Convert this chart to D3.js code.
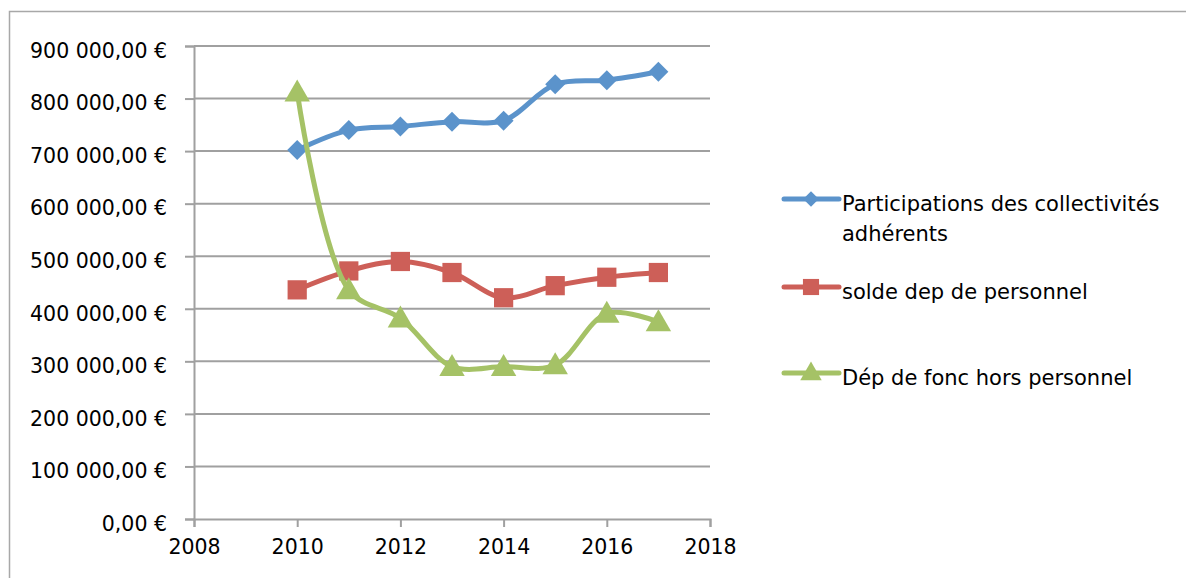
<!DOCTYPE html>
<html>
<head>
<meta charset="utf-8">
<script src="https://cdn.jsdelivr.net/npm/d3@7"></script>
<style>
  html, body { margin: 0; padding: 0; background: #fff; }
  svg { display: block; font-family: "DejaVu Sans", sans-serif; }
</style>
</head>
<body>
<svg id="chart" width="1186" height="578"></svg>
<script>
// data
const years = [2010, 2011, 2012, 2013, 2014, 2015, 2016, 2017];
const participations = [702000, 740000, 747000, 756000, 758000, 827000, 835000, 851000];
const soldePersonnel = [436000, 472000, 490000, 469000, 421000, 444000, 460000, 469000];
const depFonc = [812000, 436000, 382000, 290000, 290000, 293000, 391000, 375000];
const seriesNames = [
  ["Participations des collectivités", "adhérents"],
  ["solde dep de personnel"],
  ["Dép de fonc hors personnel"]
];
const xTicks = [2008, 2010, 2012, 2014, 2016, 2018];
const yTicks = d3.range(0, 900001, 100000);

const COLORS = ["#5b93cb", "#cd5f58", "#a5c266"];
const GRID = "#a0a0a0";

const svg = d3.select("#chart");

// outer frame (runs off right and bottom)
svg.append("rect")
  .attr("x", 9.5).attr("y", 11.5)
  .attr("width", 1200).attr("height", 600)
  .attr("fill", "none").attr("stroke", "#a8a8a8").attr("stroke-width", 1.5);

const x = d3.scaleLinear().domain([2008, 2018]).range([194, 710]);
const y = d3.scaleLinear().domain([0, 900000]).range([519, 46]);

const fmt = v => d3.format(",.2f")(v).replace(/,/g, " ").replace(".", ",") + " €";

// gridlines
svg.append("g").selectAll("line")
  .data(yTicks.filter(d => d > 0))
  .join("line")
  .attr("x1", 194).attr("x2", 710)
  .attr("y1", d => y(d)).attr("y2", d => y(d))
  .attr("stroke", GRID).attr("stroke-width", 2);

// y axis
const gy = svg.append("g").attr("transform", "translate(194,0)")
  .call(d3.axisLeft(y).tickValues(yTicks).tickFormat(fmt).tickSize(9).tickPadding(18));
// x axis
const gx = svg.append("g").attr("transform", "translate(0,519)")
  .call(d3.axisBottom(x).tickValues(xTicks).tickFormat(d3.format("d")).tickSize(8).tickSizeOuter(8).tickPadding(12));

[gx, gy].forEach(g => {
  g.select(".domain").attr("stroke", GRID).attr("stroke-width", 2);
  g.selectAll(".tick line").attr("stroke", GRID).attr("stroke-width", 2);
  g.selectAll(".tick text").attr("fill", "#000").style("font-size", "20.5px")
    .style("font-family", "DejaVu Sans, sans-serif");
});
gy.selectAll(".tick text").attr("dy", "0.55em");
gx.selectAll(".tick text").attr("dy", "0.72em");

// marker shapes: diamond is a square turned 45deg
const markers = [
  { type: d3.symbolSquare, size: 200, rot: 45, dy: 0 },
  { type: d3.symbolSquare, size: 370, rot: 0, dy: 0 },
  { type: d3.symbolTriangle, size: 280, rot: 0, dy: 2 }
];
const legendMarkers = [120, 260, 200];

const series = [participations, soldePersonnel, depFonc].map((vals, i) => ({
  color: COLORS[i],
  marker: markers[i],
  points: years.map((yr, j) => ({ year: yr, value: vals[j] }))
}));

const line = d3.line()
  .x(d => x(d.year))
  .y(d => y(d.value))
  .curve(d3.curveCatmullRom.alpha(0.5));

series.forEach(s => {
  svg.append("path")
    .attr("d", line(s.points))
    .attr("fill", "none")
    .attr("stroke", s.color)
    .attr("stroke-width", 5)
    .attr("stroke-linejoin", "round");

  svg.append("g").selectAll("path")
    .data(s.points)
    .join("path")
    .attr("transform", d => `translate(${x(d.year)},${y(d.value) + s.marker.dy}) rotate(${s.marker.rot})`)
    .attr("d", d3.symbol().type(s.marker.type).size(s.marker.size))
    .attr("fill", s.color);
});

// legend
const legendY = [199, 287, 373];
const legend = svg.append("g");
series.forEach((s, i) => {
  const g = legend.append("g").attr("transform", `translate(0,${legendY[i]})`);
  g.append("line")
    .attr("x1", 784).attr("x2", 839)
    .attr("stroke", s.color).attr("stroke-width", 5).attr("stroke-linecap", "round");
  g.append("path")
    .attr("transform", `translate(811,${s.marker.dy / 2}) rotate(${s.marker.rot})`)
    .attr("d", d3.symbol().type(s.marker.type).size(legendMarkers[i]))
    .attr("fill", s.color);
  seriesNames[i].forEach((t, k) => {
    g.append("text")
      .attr("x", 842).attr("y", 12 + k * 30)
      .style("font-size", "21px")
      .attr("fill", "#000")
      .text(t);
  });
});
</script>
</body>
</html>
